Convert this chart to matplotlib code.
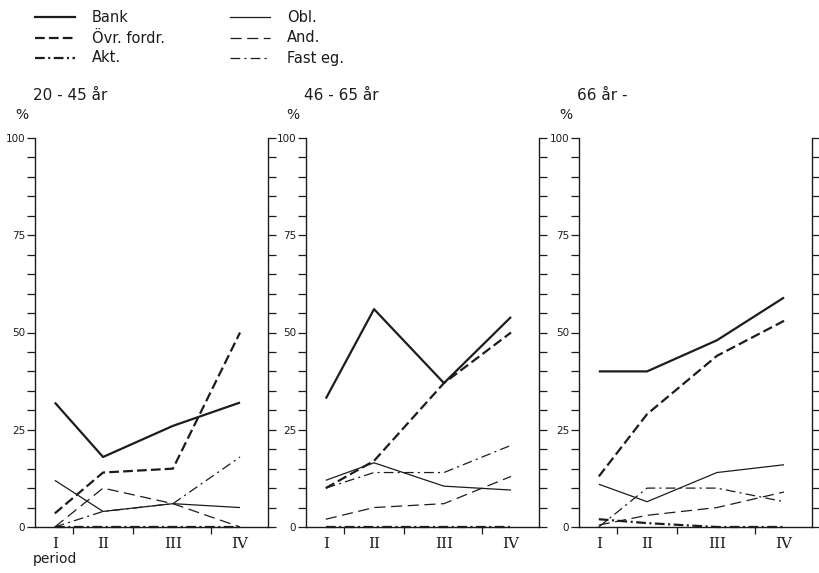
import matplotlib
matplotlib.use("Agg")
import matplotlib.pyplot as plt
from matplotlib.lines import Line2D

plt.rcParams["lines.scale_dashes"] = False
plt.rcParams["font.family"] = ["DejaVu Sans"]

# period labels and age groups
periods = ["I", "II", "III", "IV"]
age_groups = ["20 - 45 år", "46 - 65 år", "66 år -"]
series_names = ["Bank", "Övr. fordr.", "Akt.", "Obl.", "And.", "Fast eg."]

# values in % (panel 1, 2, 3)
bank = [[32, 18, 26, 32], [33, 56, 37, 54], [40, 40, 48, 59]]
ovr_fordr = [[3.5, 14, 15, 50], [10, 17, 37, 50], [13, 29, 44, 53]]
akt = [[0, 0, 0, 0], [0, 0, 0, 0], [2, 1, 0, 0]]
obl = [[12, 4, 6, 5], [12, 16.5, 10.5, 9.5], [11, 6.5, 14, 16]]
and_ = [[0, 10, 6, 0], [2, 5, 6, 13], [0.5, 3, 5, 9]]
fast_eg = [[0, 4, 6, 18], [10, 14, 14, 21], [0, 10, 10, 6.5]]

ink = "#1c1c1c"
# (linewidth, dashes)
styles = [
    (1.6, None),
    (1.6, (7, 3)),
    (1.6, (7, 2.5, 1.5, 2.5)),
    (0.9, None),
    (0.9, (8, 4)),
    (0.9, (7, 3, 1.5, 3)),
]
all_series = [bank, ovr_fordr, akt, obl, and_, fast_eg]

period_pos = [0.085, 0.292, 0.592, 0.88]
minor_pos = [0.165, 0.42, 0.755]

W, H = 819, 573
fig = plt.figure(figsize=(W / 100, H / 100), dpi=100)
fig.patch.set_facecolor("white")

panel_left = [35, 306, 579]
panel_width = 233
y0_px, y100_px = 527, 138

for i, left in enumerate(panel_left):
    ax = fig.add_axes([left / W, 1 - y0_px / H, panel_width / W, (y0_px - y100_px) / H])
    ax.set_xlim(0, 1)
    ax.set_ylim(0, 100)
    ax.patch.set_alpha(0)
    for s in ["left", "right", "bottom"]:
        ax.spines[s].set_linewidth(1.0)
        ax.spines[s].set_color(ink)
    ax.spines["top"].set_visible(False)

    for series, (lw, dash) in zip(all_series, styles):
        ln, = ax.plot(period_pos, series[i], color=ink, lw=lw, clip_on=False,
                      solid_capstyle="butt")
        if dash is not None:
            ln.set_dashes(dash)

    ax.set_yticks([0, 25, 50, 75, 100])
    ax.set_yticks(range(0, 101, 5), minor=True)
    ax.set_yticklabels(["0", "25", "50", "75", "100"], fontsize=7.5, color=ink)
    ax.tick_params(axis="y", which="both", direction="out", left=True, right=True,
                   length=6, width=0.9, color=ink, pad=1)
    ax.set_xticks(period_pos)
    ax.set_xticklabels(periods, fontsize=11, family="DejaVu Serif", color=ink)
    ax.set_xticks(minor_pos, minor=True)
    ax.tick_params(axis="x", which="major", length=0, pad=7)
    ax.tick_params(axis="x", which="minor", direction="out", length=5, width=0.9,
                   color=ink)

    fig.text((left - 2) / W, 1 - 95 / H, age_groups[i], fontsize=11, color=ink,
             va="center", ha="left")
    fig.text((left - 20) / W, 1 - 115 / H, "%", fontsize=10, color=ink,
             va="center", ha="left")

fig.text(33 / W, 1 - 559 / H, "period", fontsize=10, color=ink, va="center")

# legend drawn by hand, two columns
legend_rows = [17, 38, 58]
legend_cols = [(35, 75, 92), (230, 270, 287)]
for k, name in enumerate(series_names):
    col, row = divmod(k, 3)
    x1, x2, xt = legend_cols[col]
    y = 1 - legend_rows[row] / H
    lw, dash = styles[k]
    ln = Line2D([x1 / W, x2 / W], [y, y], color=ink, lw=lw, transform=fig.transFigure)
    if dash is not None:
        ln.set_dashes(dash)
    fig.add_artist(ln)
    fig.text(xt / W, y, name, fontsize=10.5, color=ink, va="center", ha="left")

fig.savefig("out.png", dpi=100)
